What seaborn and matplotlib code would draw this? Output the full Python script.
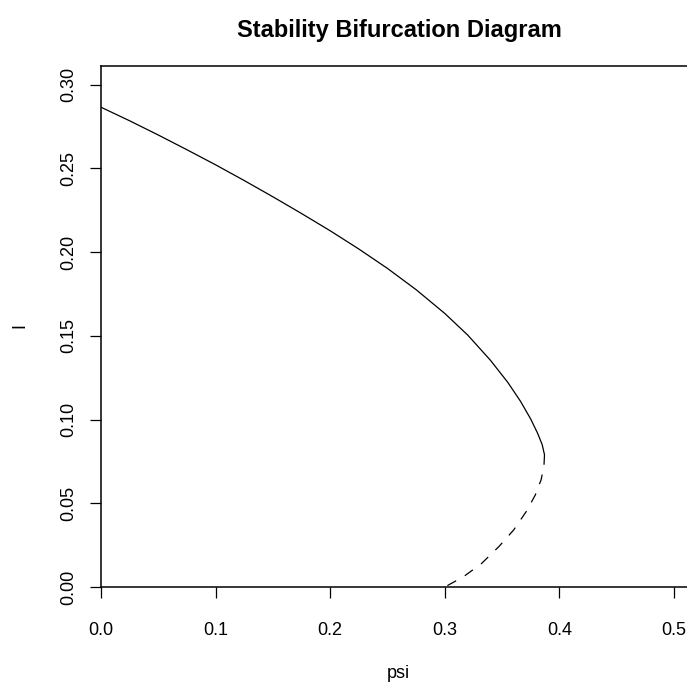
import matplotlib
matplotlib.use("Agg")
import matplotlib.pyplot as plt
import seaborn as sns

# stable branch (solid)
psi_stable = [0.000, 0.025, 0.050, 0.075, 0.100, 0.125, 0.150, 0.175, 0.200,
              0.225, 0.250, 0.275, 0.300, 0.320, 0.340, 0.355, 0.366, 0.375,
              0.381, 0.385, 0.387]
I_stable = [0.2866, 0.2785, 0.2700, 0.2612, 0.2522, 0.2428, 0.2331, 0.2231,
            0.2128, 0.2019, 0.1903, 0.1776, 0.1634, 0.1505, 0.1353, 0.1222,
            0.1110, 0.1003, 0.0918, 0.0850, 0.0790]

# unstable branch (dashed)
psi_unstable = [0.387, 0.3865, 0.384, 0.379, 0.371, 0.360, 0.347, 0.332,
                0.316, 0.300]
I_unstable = [0.0790, 0.072, 0.064, 0.055, 0.045, 0.034, 0.024, 0.014,
              0.006, 0.000]

x_ticks = [0.0, 0.1, 0.2, 0.3, 0.4, 0.5]
y_ticks = [0.00, 0.05, 0.10, 0.15, 0.20, 0.25, 0.30]

sns.set_style("ticks")
plt.rcParams['font.family'] = ['Liberation Sans', 'DejaVu Sans']
plt.rcParams['text.color'] = 'black'

W, H = 687, 691
fig = plt.figure(figsize=(W / 100, H / 100), dpi=100)
ax = fig.add_axes([101 / W, 104 / H, 586 / W, 521 / H])

sns.lineplot(x=psi_stable, y=I_stable, sort=False, estimator=None,
             color="black", linewidth=0.9, ax=ax)
sns.lineplot(x=psi_unstable, y=I_unstable, sort=False, estimator=None,
             color="black", linewidth=0.9, linestyle=(0, (8, 8)), ax=ax)

ax.set_xlim(0, 586 / 1146)
ax.set_ylim(0, 521 / 1674)
ax.set_xticks(x_ticks)
ax.set_yticks(y_ticks)
ax.set_xticklabels([f"{v:.1f}" for v in x_ticks])
ax.set_yticklabels([f"{v:.2f}" for v in y_ticks], rotation=90, va="center")

ax.spines["right"].set_visible(False)
for s in ["left", "bottom", "top"]:
    ax.spines[s].set_linewidth(1.1)
    ax.spines[s].set_color("black")

ax.tick_params(axis="both", direction="out", length=8, width=0.9,
               colors="black", labelcolor="black", labelsize=13)
ax.tick_params(axis="x", pad=17)
ax.tick_params(axis="y", pad=9)

ax.set_xlabel("")
ax.set_ylabel("")
fig.text(398 / W, 1 - 673 / H, "psi", ha="center", va="center", fontsize=13,
         color="black")
fig.text(20 / W, 1 - 326 / H, "I", ha="center", va="center", fontsize=13,
         rotation=90, color="black")
fig.text(399 / W, 1 - 30 / H, "Stability Bifurcation Diagram", ha="center",
         va="center", fontsize=17, fontweight="bold", color="black")

fig.savefig("out.png", dpi=100)
